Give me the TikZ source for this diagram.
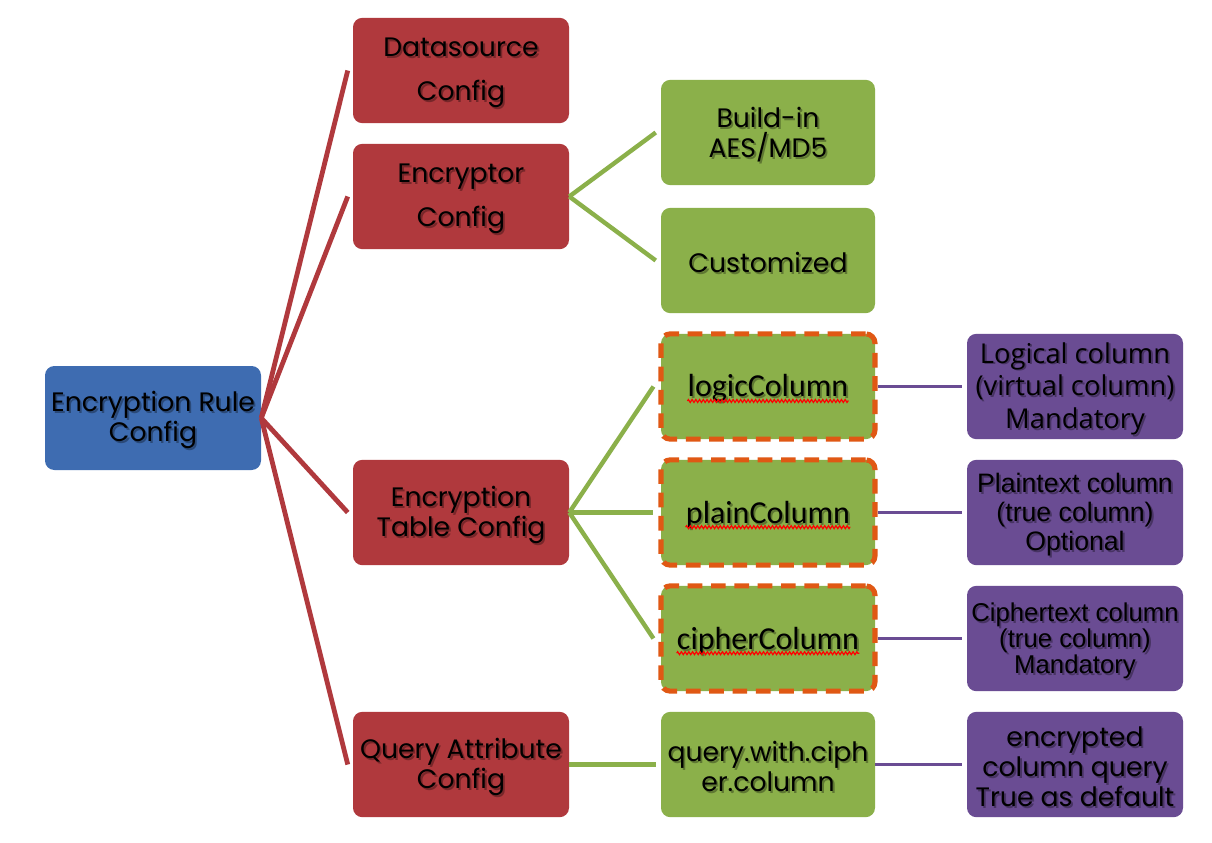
\documentclass[tikz,border=0pt]{standalone}
\usepackage{fontspec}
\setmainfont{Poppins}
\newfontfamily\arialf{Liberation Sans}
\newfontfamily\opensf{Open Sans}
\newfontfamily\calf{Carlito}
\usetikzlibrary{decorations.pathmorphing}
\definecolor{cblue}{HTML}{3E6CB1}
\definecolor{cred}{HTML}{B0393D}
\definecolor{cgreen}{HTML}{8BB04A}
\definecolor{cpurple}{HTML}{6A4C93}
\definecolor{corange}{HTML}{E05814}
\tikzset{
  box/.style={rounded corners=7pt, inner sep=0pt, minimum height=79pt, draw=none},
  rootbox/.style={box, fill=cblue, minimum width=162pt, minimum height=78pt},
  redbox/.style={box, fill=cred, minimum width=162pt},
  greenbox/.style={box, fill=cgreen, minimum width=160.5pt},
  dashbox/.style={greenbox, draw=corange, line width=3.8pt, dash pattern=on 11pt off 6.5pt},
  purplebox/.style={box, fill=cpurple, minimum width=162pt},
  txt/.style={inner sep=0pt, align=center, text=black},
  shad/.style={txt, opacity=.32},
  redline/.style={draw=cred, line width=3.6pt},
  greenline/.style={draw=cgreen, line width=3.3pt},
  purpleline/.style={draw=cpurple, line width=2.9pt},
  squiggle/.style={draw=red, line width=0.9pt, decorate,
    decoration={zigzag, segment length=2.8pt, amplitude=1.1pt}},
}
\newcommand\bx[5]{%
  \node[#2] (#1) at (#3) {};
  \node[shad,font=#4] at ([xshift=1.4pt,yshift=-3pt]#1.center) {#5};
  \node[txt,font=#4] (#1-t) at ([yshift=-1.6pt]#1.center) {#5};
}
\newcommand\fa{\fontsize{20pt}{22.5pt}\selectfont}
\newcommand\fb{\fontsize{20pt}{33pt}\selectfont}
\begin{document}
\begin{tikzpicture}[x=0.75pt, y=-0.75pt]
\useasboundingbox[fill=white] (0,0) rectangle (1212,842);
% root
\bx{root}{rootbox}{153,418}{\fa}{Encryption Rule\\Config}
% red column
\bx{ds}{redbox}{461,70.5}{\fb}{Datasource\\Config}
\bx{ec}{redbox}{461,196.5}{\fb}{Encryptor\\Config}
\bx{et}{redbox}{461,512.5}{\fa}{Encryption\\Table Config}
\bx{qa}{redbox}{461,764.5}{\fa}{Query Attribute\\Config}
% green column
\bx{bi}{greenbox}{768,132.5}{\fa}{Build-in\\AES/MD5}
\bx{cu}{greenbox}{768,260.5}{\fa}{Customized}
\bx{lc}{dashbox}{768,386.5}{\calf\fontsize{24pt}{28pt}\selectfont}{logicColumn}
\bx{pc}{dashbox}{768,512.5}{\calf\fontsize{24pt}{28pt}\selectfont}{plainColumn}
\bx{cc}{dashbox}{768,638.5}{\calf\fontsize{24pt}{28pt}\selectfont}{cipherColumn}
\bx{qw}{greenbox}{768,764.5}{\fa}{query.with.ciph\\er.column}
% purple column
\bx{lg}{purplebox}{1075,386.5}{\opensf\fontsize{20.5pt}{24.5pt}\selectfont}{Logical column\\(virtual column)\\Mandatory}
\bx{pt}{purplebox}{1075,512.5}{\arialf\fontsize{20pt}{21.8pt}\selectfont}{Plaintext column\\(true column)\\Optional}
\bx{ct}{purplebox}{1075,638.5}{\arialf\fontsize{19.3pt}{19.5pt}\selectfont}{Ciphertext column\\(true column)\\Mandatory}
\bx{en}{purplebox}{1075,764.5}{\fa}{encrypted\\column query\\True as default}
% spelling squiggles
\foreach \n in {lc,pc,cc}{
  \draw[squiggle] ([yshift=-3pt]\n-t.base west) -- ([yshift=-3pt]\n-t.base east);
}
% connectors root -> red
\foreach \n in {ds,ec,et,qa}{
  \draw[redline] (root.east) -- ([xshift=-3.75pt]\n.west);
}
% red -> green
\draw[greenline] (ec.east) -- ([xshift=-3.75pt]bi.west);
\draw[greenline] (ec.east) -- ([xshift=-3.75pt]cu.west);
\draw[greenline] (et.east) -- ([xshift=-3.75pt]lc.west);
\draw[greenline] (et.east) -- ([xshift=-3.75pt]pc.west);
\draw[greenline] (et.east) -- ([xshift=-3.75pt]cc.west);
\draw[greenline] (qa.east) -- ([xshift=-3.75pt]qw.west);
% green -> purple
\draw[purpleline] (lc.east) -- ([xshift=-3.75pt]lg.west);
\draw[purpleline] (pc.east) -- ([xshift=-3.75pt]pt.west);
\draw[purpleline] (cc.east) -- ([xshift=-3.75pt]ct.west);
\draw[purpleline] (qw.east) -- ([xshift=-3.75pt]en.west);
\end{tikzpicture}
\end{document}
